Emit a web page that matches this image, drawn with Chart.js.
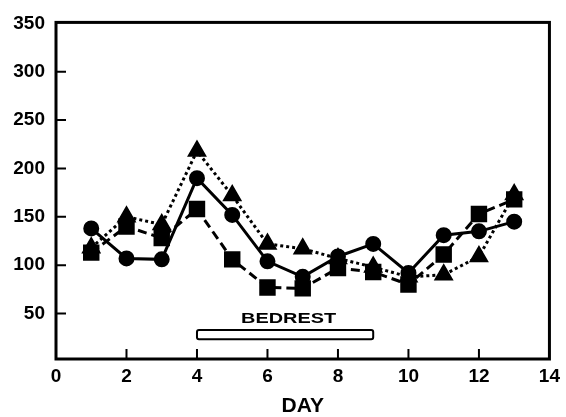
<!DOCTYPE html>
<html>
<head>
<meta charset="utf-8">
<script src="https://cdn.jsdelivr.net/npm/chart.js@4/dist/chart.umd.min.js"></script>
<style>
  html, body { margin: 0; padding: 0; background: #fff; }
  #wrap { width: 566px; height: 417px; position: relative; }
</style>
</head>
<body>
<div id="wrap"><canvas id="chart"></canvas></div>
<script>
const days = [1, 2, 3, 4, 5, 6, 7, 8, 9, 10, 11, 12, 13];
const circleValues = [138, 107, 106, 190, 152, 104, 88, 109, 122, 92, 131, 135, 145];
const squareValues = [113, 140, 128, 158, 106, 77, 76, 97, 93, 80, 111, 153, 168];
const triangleValues = [118, 150, 142, 218, 172, 122, 117, 107, 98, 88, 90, 109, 173];
const yTickValues = [50, 100, 150, 200, 250, 300, 350];
const xTickValues = [0, 2, 4, 6, 8, 10, 12, 14];
const bedrestDays = [4, 9];
const bedrestRange = [23.5, 33];
const bedrestLabel = 'BEDREST';

const FONT = '"Liberation Sans", Arial, sans-serif';
const toPoints = vals => vals.map((v, i) => ({ x: days[i], y: v }));

// frame, inward tick marks and the bedrest bar
const extras = {
  id: 'extras',
  afterDatasetsDraw(chart) {
    const { ctx, chartArea: a, scales: { x, y } } = chart;
    ctx.save();
    ctx.strokeStyle = '#000';
    ctx.lineWidth = 3;
    ctx.strokeRect(a.left, a.top, a.right - a.left, a.bottom - a.top);

    ctx.lineWidth = 2;
    ctx.beginPath();
    yTickValues.slice(0, -1).forEach(v => {
      const py = y.getPixelForValue(v);
      ctx.moveTo(a.left, py);
      ctx.lineTo(a.left + 10, py);
    });
    xTickValues.slice(1, -1).forEach(v => {
      const px = x.getPixelForValue(v);
      ctx.moveTo(px, a.bottom);
      ctx.lineTo(px, a.bottom - 10);
    });
    ctx.stroke();

    const x0 = x.getPixelForValue(bedrestDays[0]);
    const x1 = x.getPixelForValue(bedrestDays[1]);
    const y0 = y.getPixelForValue(bedrestRange[1]);
    const y1 = y.getPixelForValue(bedrestRange[0]);
    ctx.fillStyle = '#fff';
    ctx.lineWidth = 2;
    ctx.beginPath();
    ctx.roundRect(x0, y0, x1 - x0, y1 - y0, 2);
    ctx.fill();
    ctx.stroke();

    // label is drawn a little stretched, as in the original figure
    ctx.fillStyle = '#000';
    ctx.font = 'bold 15px ' + FONT;
    ctx.textAlign = 'center';
    ctx.textBaseline = 'alphabetic';
    const w = ctx.measureText(bedrestLabel).width;
    const cx = (x0 + x1) / 2 + 3.5;
    ctx.translate(cx, y0 - 7);
    ctx.scale(95 / w, 1);
    ctx.fillText(bedrestLabel, 0, 0);
    ctx.restore();
  }
};

const common = {
  borderColor: '#000',
  backgroundColor: '#000',
  pointBackgroundColor: '#000',
  pointBorderColor: '#000',
  borderWidth: 3,
  tension: 0
};

new Chart(document.getElementById('chart'), {
  type: 'line',
  data: {
    datasets: [
      { ...common, label: 'circle', data: toPoints(circleValues), pointStyle: 'circle', pointRadius: 6.5 },
      { ...common, label: 'square', data: toPoints(squareValues), pointStyle: 'rect', pointRadius: 9.5, borderDash: [9, 5] },
      { ...common, label: 'triangle', data: toPoints(triangleValues), pointStyle: 'triangle', pointRadius: 8.5, borderDash: [3, 3] }
    ]
  },
  options: {
    responsive: true,
    maintainAspectRatio: false,
    animation: false,
    layout: { padding: { top: 18, right: 14, left: 0, bottom: 0 } },
    plugins: { legend: { display: false }, tooltip: { enabled: false } },
    scales: {
      x: {
        type: 'linear',
        min: 0,
        max: 14,
        afterBuildTicks: s => { s.ticks = xTickValues.map(v => ({ value: v })); },
        afterFit: s => { s.height = 58; },
        grid: { display: false, drawTicks: false },
        border: { display: false },
        ticks: {
          color: '#000',
          padding: 6,
          maxRotation: 0,
          font: { family: FONT, size: 19, weight: 'bold' }
        },
        title: {
          display: true,
          text: 'DAY',
          color: '#000',
          padding: { top: 0, bottom: 0 },
          font: { family: FONT, size: 21, weight: 'bold', lineHeight: 1 }
        }
      },
      y: {
        min: 3,
        max: 351,
        afterBuildTicks: s => { s.ticks = yTickValues.map(v => ({ value: v })); },
        afterFit: s => { s.width = 56; },
        grid: { display: false, drawTicks: false },
        border: { display: false },
        ticks: {
          color: '#000',
          padding: 11,
          font: { family: FONT, size: 19, weight: 'bold' }
        }
      }
    }
  },
  plugins: [extras]
});
</script>
</body>
</html>
